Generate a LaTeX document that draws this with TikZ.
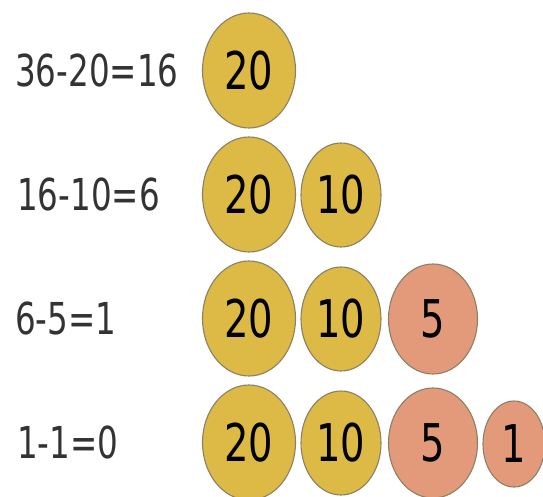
\documentclass[tikz,border=0pt]{standalone}
\usepackage{fontspec}
\setmainfont{DejaVu Sans}[FakeStretch=0.74]
\usetikzlibrary{shapes.geometric}
\definecolor{coingold}{RGB}{221,185,70}
\definecolor{coincopper}{RGB}{227,154,122}
\definecolor{coinrim}{RGB}{140,128,100}

\begin{document}
\begin{tikzpicture}[
    x=1pt, y=-1pt,
    coin/.style={ellipse, draw=coinrim, line width=1.1pt, inner sep=0pt,
        font=\fontsize{52}{52}\selectfont},
    twenty/.style={coin, fill=coingold, minimum width=93pt, minimum height=115pt},
    ten/.style={coin, fill=coingold, minimum width=80pt, minimum height=104pt},
    five/.style={coin, fill=coincopper, minimum width=89pt, minimum height=110pt},
    one/.style={coin, fill=coincopper, minimum width=62pt, minimum height=86pt},
    sum/.style={anchor=west, inner sep=0pt, text=black!80,
        font=\fontsize{44}{44}\selectfont}
]
\useasboundingbox (0,0) rectangle (543,497);

% Row 1
\node[sum] (sum1) at (15,70) {36-20=16};
\node[twenty] (twentyA) at (249,70.5) {20};

% Row 2
\node[sum] (sum2) at (17,194.5) {16-10=6};
\node[twenty] (twentyB) at (249,194.5) {20};
\node[ten] (tenB) at (341,195) {10};

% Row 3
\node[sum] (sum3) at (15,318.5) {6-5=1};
\node[twenty] (twentyC) at (249,318.5) {20};
\node[ten] (tenC) at (341,319) {10};
\node[five] (fiveC) at (433,319) {5};

% Row 4
\node[sum] (sum4) at (17,442.5) {1-1=0};
\node[twenty] (twentyD) at (249,442.5) {20};
\node[ten] (tenD) at (341,443) {10};
\node[five] (fiveD) at (433,443) {5};
\node[one] (oneD) at (514,444) {1};

\end{tikzpicture}
\end{document}
